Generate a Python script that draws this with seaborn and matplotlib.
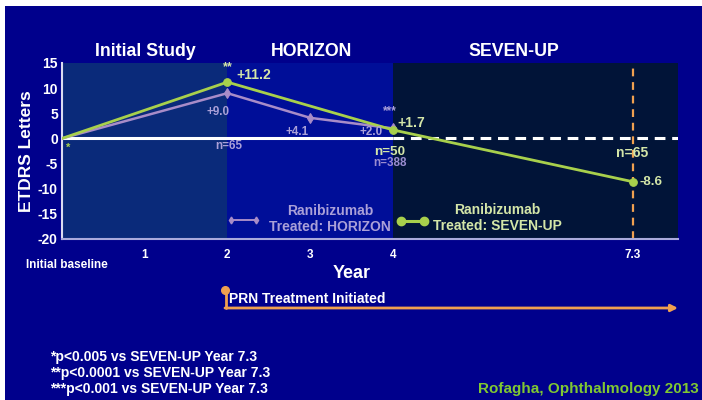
import numpy as np
import pandas as pd
import matplotlib
matplotlib.use('Agg')
import matplotlib.pyplot as plt
from matplotlib.lines import Line2D
from matplotlib.patches import Rectangle
import seaborn as sns

# --- data ---
horizon_years = [0, 2, 3, 4]
horizon_vals = [0.0, 9.0, 4.1, 2.0]
sevenup_years = [0, 2, 4, 7.3]
sevenup_vals = [0.0, 11.2, 1.7, -8.6]

x_ticks = [1, 2, 3, 4, 7.3]
x_tick_labels = ['1', '2', '3', '4', '7.3']
y_ticks = [-20, -15, -10, -5, 0, 5, 10, 15]

phase_names = ['Initial Study', 'HORIZON', 'SEVEN-UP']
phase_bounds = [0, 2, 4]

footnotes = ['*p<0.005 vs SEVEN-UP Year 7.3',
             '**p<0.0001 vs SEVEN-UP Year 7.3',
             '***p<0.001 vs SEVEN-UP Year 7.3']

# the slide squeezes the years after 4
def pos(year):
    return np.interp(year, [0, 4, 7.3], [0, 4, 6.9])

# colours
BG = '#00008c'
PURPLE = '#a88cc8'
PURPLE_TXT = '#aaa0d8'
GREEN = '#a8d04c'
GREEN_TXT = '#d4e6a8'
ORANGE = '#f0a050'
REGION_COLS = ['#0a2a7a', '#000e98', '#011438']

W, H = 702, 400

def px(x, y):
    # pixel position (from top-left) -> figure fraction
    return (x / W, 1 - y / H)

sns.set_style('white')
plt.rcParams['font.family'] = ['Liberation Sans', 'DejaVu Sans']
plt.rcParams['font.weight'] = 'bold'

fig = plt.figure(figsize=(W / 100, H / 100), dpi=100, facecolor=BG)
ax = fig.add_axes([62 / W, 1 - 239 / H, (678 - 62) / W, (239 - 63) / H])
ax.set_facecolor(BG)

XMAX = 7.45
ax.set_xlim(0, XMAX)
ax.set_ylim(-20, 15)

# shaded study periods
edges = [pos(b) for b in phase_bounds] + [XMAX]
for i, c in enumerate(REGION_COLS):
    ax.axvspan(edges[i], edges[i + 1], color=c, lw=0, zorder=0)

# zero line: solid to year 4 then dashed
ax.plot([0, pos(4)], [0, 0], color='white', lw=2.2, zorder=2, solid_capstyle='butt')
ax.plot([pos(4), XMAX], [0, 0], color='white', lw=2.2, ls=(0, (3.5, 2.2)), zorder=2)

# year 7.3 marker
ax.axvline(pos(7.3), color=ORANGE, lw=1.6, ls=(0, (3.5, 2.6)), zorder=2)

df_h = pd.DataFrame({'x': pos(horizon_years), 'y': horizon_vals})
df_s = pd.DataFrame({'x': pos(sevenup_years), 'y': sevenup_vals})

sns.lineplot(data=df_h, x='x', y='y', ax=ax, color=PURPLE, lw=1.8, sort=False,
             marker='d', markersize=5, markevery=[1, 2, 3], mec=PURPLE, zorder=3)
sns.lineplot(data=df_s, x='x', y='y', ax=ax, color=GREEN, lw=2.0, sort=False,
             marker='o', markersize=5.5, markevery=[1, 2, 3], mec=GREEN, zorder=4)

# axes styling
for s in ['top', 'right']:
    ax.spines[s].set_visible(False)
ax.spines['left'].set_color('#dcdcf0')
ax.spines['bottom'].set_color('#aaaadc')
ax.spines['left'].set_linewidth(1.5)
ax.spines['bottom'].set_linewidth(1.5)

ax.set_yticks(y_ticks)
ax.set_yticklabels([str(v) for v in y_ticks])
ax.tick_params(axis='y', colors='white', labelsize=10, length=2, pad=1, width=1)
ax.set_xticks(pos(x_ticks))
ax.set_xticklabels(x_tick_labels)
ax.tick_params(axis='x', colors='white', labelsize=8.5, length=0, pad=7)
for lab in ax.get_xticklabels() + ax.get_yticklabels():
    lab.set_fontweight('bold')

ax.set_xlabel('')
ax.set_ylabel('ETDRS Letters', color='white', fontsize=12.5, fontweight='bold', labelpad=3)

# point annotations
def note(x, y, text, dx, dy, color, size, ha='center'):
    ax.annotate(text, xy=(pos(x), y), xytext=(dx, -dy), textcoords='offset pixels',
                ha=ha, va='center', color=color, fontsize=size, fontweight='bold',
                annotation_clip=False, zorder=6)

note(2, 11.2, '**', 0, -15, GREEN_TXT, 9)
note(2, 11.2, '+11.2', 9, -7, GREEN_TXT, 10, ha='left')
note(2, 9.0, '+9.0', -9, 19, PURPLE_TXT, 8.4)
note(3, 4.1, '+4.1', -13, 14, PURPLE_TXT, 8.4)
note(4, 2.0, '+2.0', -22, 4, PURPLE_TXT, 8.4)
note(4, 1.7, '***', -3, -19, PURPLE_TXT, 8.5)
note(4, 1.7, '+1.7', 5, -7, GREEN_TXT, 10, ha='left')
note(0, 0, '*', 6, 9, GREEN, 8)
note(2, 0, 'n=65', 1, 8, PURPLE_TXT, 8.4)
note(4, 0, 'n=50', -3, 14, GREEN_TXT, 9.7)
note(4, 0, 'n=388', -3, 25, '#9a8cd0', 8.4)
note(7.3, 0, 'n=65', 0, 15, GREEN_TXT, 10)
note(7.3, -8.6, '-8.6', 7, 0, GREEN_TXT, 9.6, ha='left')

# phase titles
for name, xp in zip(phase_names, [145, 312, 514]):
    fig.text(*px(xp, 52), name, ha='center', va='center', color='white',
             fontsize=12.8, fontweight='bold')

fig.text(*px(352, 273), 'Year', ha='center', va='center', color='white',
         fontsize=13, fontweight='bold')
fig.text(*px(26, 265), 'Initial baseline', ha='left', va='center', color='white',
         fontsize=8.5, fontweight='bold')

# hand-drawn legend
fig.add_artist(Line2D([px(231, 0)[0], px(256, 0)[0]], [px(0, 220)[1]] * 2,
                      transform=fig.transFigure, color=PURPLE, lw=1.4,
                      marker='d', markersize=3.5, markevery=[0, 1]))
fig.text(*px(330, 219), 'Ranibizumab\nTreated: HORIZON', ha='center', va='center',
         color=PURPLE_TXT, fontsize=10, fontweight='bold', linespacing=1.15)
fig.add_artist(Line2D([px(401, 0)[0], px(424, 0)[0]], [px(0, 221)[1]] * 2,
                      transform=fig.transFigure, color=GREEN, lw=2.2,
                      marker='o', markersize=6))
fig.text(*px(497, 218), 'Ranibizumab\nTreated: SEVEN-UP', ha='center', va='center',
         color=GREEN_TXT, fontsize=10, fontweight='bold', linespacing=1.15)

# PRN treatment arrow
fig.add_artist(Line2D([px(226, 0)[0]] * 2, [px(0, 290)[1], px(0, 308)[1]],
                      transform=fig.transFigure, color=ORANGE, lw=2))
fig.add_artist(Line2D([px(225, 0)[0]], [px(0, 290)[1]], transform=fig.transFigure,
                      color=ORANGE, marker='o', markersize=5.5))
fig.add_artist(plt.Annotation('', xy=px(678, 308), xytext=px(225, 308),
                              xycoords='figure fraction', textcoords='figure fraction',
                              arrowprops=dict(arrowstyle='-|>', color=ORANGE, lw=2,
                                              mutation_scale=10, shrinkA=0, shrinkB=0)))
fig.text(*px(229, 299), 'PRN Treatment Initiated', ha='left', va='center',
         color='white', fontsize=10, fontweight='bold')

# footnotes and source
for i, t in enumerate(footnotes):
    fig.text(*px(50, 357 + 16 * i), t, ha='left', va='center', color='white',
             fontsize=10, fontweight='bold')
fig.text(*px(699, 389), 'Rofagha, Ophthalmology 2013', ha='right', va='center',
         color='#80c832', fontsize=11, fontweight='bold')

# white slide border on top and left
fig.add_artist(Rectangle(px(0, 6), 1, 6 / H, transform=fig.transFigure,
                         color='white', lw=0, zorder=10))
fig.add_artist(Rectangle((0, 0), 5 / W, 1, transform=fig.transFigure,
                         color='white', lw=0, zorder=10))

fig.savefig('out.png', dpi=100, facecolor=BG)
